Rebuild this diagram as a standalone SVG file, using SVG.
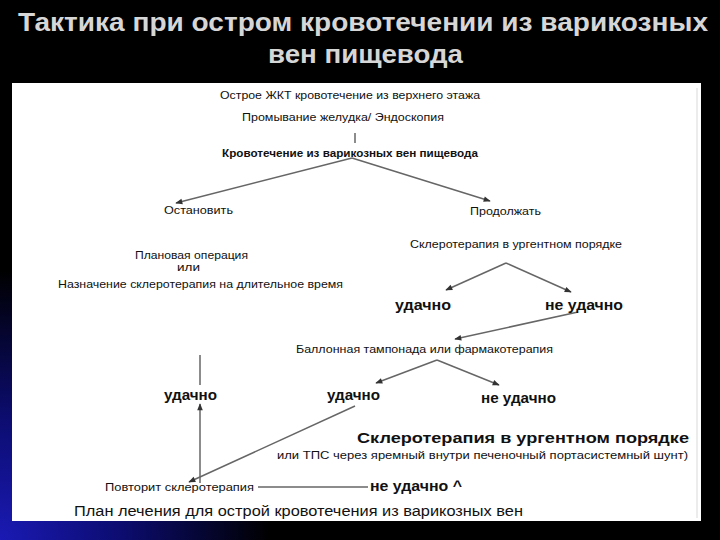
<svg xmlns="http://www.w3.org/2000/svg" width="720" height="540" viewBox="0 0 720 540">
<defs>
<radialGradient id="bg" cx="0" cy="540" r="270" gradientUnits="userSpaceOnUse">
<stop offset="0" stop-color="#1a1ab4"/>
<stop offset="0.45" stop-color="#0c0c70"/>
<stop offset="1" stop-color="#000000"/>
</radialGradient>
<marker id="ah" viewBox="0 0 10 10" refX="9" refY="5" markerWidth="9" markerHeight="7" markerUnits="userSpaceOnUse" orient="auto">
<path d="M0,1 L10,5 L0,9 z" fill="#333"/>
</marker>
<style>
.t{font-family:"Liberation Sans",Arial,sans-serif;fill:#d6d6d6;font-weight:bold;font-size:26px}
.s{font-family:"Liberation Sans",Arial,sans-serif;fill:#111;font-size:11px}
.b{font-family:"Liberation Sans",Arial,sans-serif;fill:#111;font-size:14px;font-weight:bold}
.m{font-family:"Liberation Sans",Arial,sans-serif;fill:#111;font-size:14px}
.c{stroke:#666;stroke-width:1.5;fill:none}
.a{stroke:#666;stroke-width:1.5;fill:none;marker-end:url(#ah)}
</style>
</defs>
<rect width="720" height="540" fill="#000"/>
<rect width="720" height="540" fill="url(#bg)"/>
<rect x="12" y="83" width="689" height="438" fill="#fff"/>
<line x1="697" y1="88" x2="697" y2="518" stroke="#e6e6e6" stroke-width="1.5"/>

<g id="title">
<text class="t" x="18" y="31" textLength="690" lengthAdjust="spacingAndGlyphs">Тактика при остром кровотечении из варикозных</text>
<text class="t" x="268" y="63" textLength="195" lengthAdjust="spacingAndGlyphs">вен пищевода</text>
</g>

<g id="connectors">
<line class="c" x1="355" y1="133" x2="355" y2="143"/>
<line class="a" x1="352" y1="158" x2="176" y2="203"/>
<line class="a" x1="352" y1="158" x2="490" y2="201"/>
<line class="a" x1="506" y1="263" x2="446" y2="290"/>
<line class="a" x1="506" y1="263" x2="571" y2="292"/>
<line class="a" x1="578" y1="312" x2="455" y2="339"/>
<line class="a" x1="437" y1="360" x2="376" y2="383"/>
<line class="a" x1="437" y1="360" x2="499" y2="385"/>
<line class="c" x1="200" y1="355" x2="200" y2="385"/>
<line class="a" x1="200" y1="483" x2="200" y2="404"/>
<line class="a" x1="355" y1="406" x2="189" y2="482"/>
<line class="c" x1="258" y1="487" x2="368" y2="487"/>
</g>

<g id="n1"><text class="s" x="220" y="99" textLength="260" lengthAdjust="spacingAndGlyphs">Острое ЖКТ кровотечение из верхнего этажа</text></g>
<g id="n2"><text class="s" x="242" y="121" textLength="202" lengthAdjust="spacingAndGlyphs">Промывание желудка/ Эндоскопия</text></g>
<g id="n3"><text class="s" x="222" y="157" textLength="256" lengthAdjust="spacingAndGlyphs" font-weight="bold">Кровотечение из варикозных вен пищевода</text></g>
<g id="n4"><text class="s" x="164" y="214" textLength="69" lengthAdjust="spacingAndGlyphs">Остановить</text></g>
<g id="n5"><text class="s" x="470" y="215" textLength="71" lengthAdjust="spacingAndGlyphs">Продолжать</text></g>
<g id="n6">
<text class="s" x="135" y="259" textLength="113" lengthAdjust="spacingAndGlyphs">Плановая операция</text>
<text class="s" x="177" y="271" textLength="23" lengthAdjust="spacingAndGlyphs">или</text>
<text class="s" x="58" y="288" textLength="285" lengthAdjust="spacingAndGlyphs">Назначение склеротерапия на длительное время</text>
</g>
<g id="n7"><text class="s" x="410" y="248" textLength="212" lengthAdjust="spacingAndGlyphs">Склеротерапия в ургентном порядке</text></g>
<g id="n8"><text class="b" x="395" y="310" textLength="56" lengthAdjust="spacingAndGlyphs">удачно</text></g>
<g id="n9"><text class="b" x="545" y="310" textLength="78" lengthAdjust="spacingAndGlyphs">не удачно</text></g>
<g id="n10"><text class="s" x="296" y="353" textLength="257" lengthAdjust="spacingAndGlyphs">Баллонная тампонада  или фармакотерапия</text></g>
<g id="n11"><text class="b" x="164" y="400" textLength="53" lengthAdjust="spacingAndGlyphs">удачно</text></g>
<g id="n12"><text class="b" x="327" y="400" textLength="53" lengthAdjust="spacingAndGlyphs">удачно</text></g>
<g id="n13"><text class="b" x="481" y="403" textLength="75" lengthAdjust="spacingAndGlyphs">не удачно</text></g>
<g id="n14">
<text class="b" x="357" y="443" textLength="332" lengthAdjust="spacingAndGlyphs">Склеротерапия в ургентном порядке</text>
<text class="s" x="277" y="459" textLength="411" lengthAdjust="spacingAndGlyphs">или ТПС через яремный внутри печеночный портасистемный шунт)</text>
</g>
<g id="n15"><text class="s" x="105" y="491" textLength="149" lengthAdjust="spacingAndGlyphs">Повторит  склеротерапия</text></g>
<g id="n16"><text class="b" x="370" y="491" textLength="92" lengthAdjust="spacingAndGlyphs">не удачно ^</text></g>
<g id="n17"><text class="m" x="74" y="516" textLength="449" lengthAdjust="spacingAndGlyphs">План лечения для острой кровотечения из варикозных вен</text></g>
</svg>
